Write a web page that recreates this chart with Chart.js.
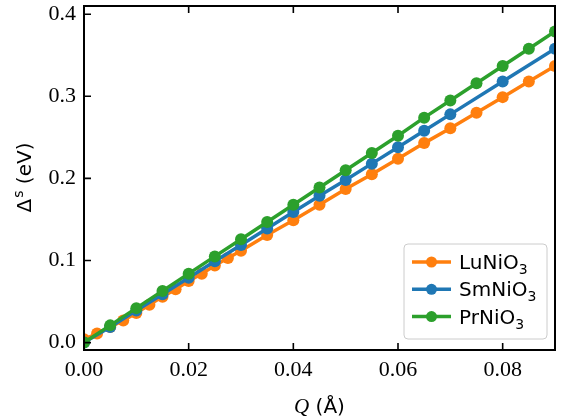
<!DOCTYPE html>
<html lang="en">
<head>
  <meta charset="UTF-8">
  <title>Spin splitting vs Q</title>
  <script src="https://cdn.jsdelivr.net/npm/chart.js"></script>
</head>
<body style="margin:0; background:#fff;">

  <canvas id="splitChart" width="561" height="420"></canvas>

  <script>
    // Q values (Å) and splitting Δs (eV) per compound
    const luQ = [0, 0.0025, 0.005, 0.0075, 0.01, 0.0125, 0.015, 0.0175, 0.02, 0.0225, 0.025, 0.0275,
                 0.03, 0.035, 0.04, 0.045, 0.05, 0.055, 0.06, 0.065, 0.07, 0.075, 0.08, 0.085, 0.09];
    const luVals = [0.004, 0.011, 0.019, 0.027, 0.036, 0.046, 0.056, 0.065, 0.075, 0.084, 0.094, 0.103,
                    0.112, 0.131, 0.149, 0.168, 0.187, 0.205, 0.224, 0.243, 0.261, 0.280, 0.299, 0.318, 0.337];

    const smQ = [0, 0.005, 0.01, 0.015, 0.02, 0.025, 0.03, 0.035, 0.04, 0.045, 0.05, 0.055, 0.06, 0.065, 0.07, 0.08, 0.09];
    const smVals = [0.0, 0.019, 0.039, 0.059, 0.079, 0.099, 0.119, 0.139, 0.159, 0.179, 0.198, 0.218, 0.238, 0.258, 0.278, 0.318, 0.358];

    const prQ = [0, 0.005, 0.01, 0.015, 0.02, 0.025, 0.03, 0.035, 0.04, 0.045, 0.05, 0.055, 0.06, 0.065, 0.07, 0.075, 0.08, 0.085, 0.09];
    const prVals = [0.0, 0.021, 0.042, 0.063, 0.084, 0.105, 0.126, 0.147, 0.168, 0.189, 0.210, 0.231, 0.252, 0.274, 0.295, 0.316, 0.337, 0.358, 0.379];

    const xTicks = [0, 0.02, 0.04, 0.06, 0.08];
    const yTicks = [0, 0.1, 0.2, 0.3, 0.4];

    const C_LU = '#ff7f0e', C_SM = '#1f77b4', C_PR = '#2ca02c';
    const SANS = '"DejaVu Sans", sans-serif';
    const SERIF = '"Liberation Serif", serif';

    function pts(qs, vs) {
      return qs.map((q, i) => ({ x: q, y: vs[i] }));
    }

    function series(label, qs, vs, color, order) {
      return {
        label: label,
        data: pts(qs, vs),
        borderColor: color,
        backgroundColor: color,
        borderWidth: 3.5,
        pointRadius: 6,
        pointBorderWidth: 0,
        pointBackgroundColor: color,
        tension: 0,
        clip: 0,
        order: order
      };
    }

    // spines, inward ticks, axis titles and legend
    const frame = {
      id: 'frame',
      afterDraw(chart) {
        const ctx = chart.ctx;
        const a = chart.chartArea;
        const xs = chart.scales.x, ys = chart.scales.y;
        ctx.save();
        ctx.strokeStyle = '#000';
        ctx.lineWidth = 1.6;
        ctx.beginPath();
        xTicks.forEach(v => {
          const px = xs.getPixelForValue(v);
          ctx.moveTo(px, a.bottom); ctx.lineTo(px, a.bottom - 7);
          ctx.moveTo(px, a.top); ctx.lineTo(px, a.top + 7);
        });
        yTicks.forEach(v => {
          const py = ys.getPixelForValue(v);
          ctx.moveTo(a.left, py); ctx.lineTo(a.left + 7, py);
        });
        ctx.stroke();
        ctx.lineWidth = 2;
        ctx.strokeRect(a.left, a.top, a.right - a.left, a.bottom - a.top);

        // x title: italic Q then (Å)
        ctx.fillStyle = '#000';
        ctx.textBaseline = 'alphabetic';
        ctx.textAlign = 'left';
        const qFont = 'italic 21px ' + SERIF, uFont = '20px ' + SANS;
        ctx.font = qFont; const wq = ctx.measureText('Q').width;
        ctx.font = uFont; const wu = ctx.measureText(' (Å)').width;
        let x0 = (a.left + a.right) / 2 - (wq + wu) / 2;
        ctx.font = qFont; ctx.fillText('Q', x0, 413);
        ctx.font = uFont; ctx.fillText(' (Å)', x0 + wq, 413);

        // y title: Δ with superscript s
        ctx.save();
        ctx.translate(31, (a.top + a.bottom) / 2);
        ctx.rotate(-Math.PI / 2);
        const big = '20px ' + SANS, small = '14px ' + SANS;
        ctx.font = big; const wd = ctx.measureText('Δ').width;
        ctx.font = small; const ws = ctx.measureText('s').width;
        ctx.font = big; const we = ctx.measureText(' (eV)').width;
        let t0 = -(wd + ws + we) / 2;
        ctx.font = big; ctx.fillText('Δ', t0, 0);
        ctx.font = small; ctx.fillText('s', t0 + wd + 1, -8);
        ctx.font = big; ctx.fillText(' (eV)', t0 + wd + ws + 1, 0);
        ctx.restore();

        // legend box
        const bx = 404, by = 244, bw = 143, bh = 95, r = 4;
        ctx.beginPath();
        ctx.roundRect(bx, by, bw, bh, r);
        ctx.fillStyle = 'rgba(255,255,255,0.8)';
        ctx.fill();
        ctx.strokeStyle = '#cccccc';
        ctx.lineWidth = 1;
        ctx.stroke();

        const entries = [['LuNiO', C_LU], ['SmNiO', C_SM], ['PrNiO', C_PR]];
        entries.forEach((e, i) => {
          const cy = 262 + i * 27.3;
          ctx.strokeStyle = e[1];
          ctx.lineWidth = 3.5;
          ctx.beginPath();
          ctx.moveTo(412, cy); ctx.lineTo(451, cy);
          ctx.stroke();
          ctx.fillStyle = e[1];
          ctx.beginPath();
          ctx.arc(431.5, cy, 5.5, 0, Math.PI * 2);
          ctx.fill();
          ctx.fillStyle = '#000';
          ctx.textBaseline = 'alphabetic';
          ctx.font = big;
          ctx.fillText(e[0], 459, cy + 7);
          const w = ctx.measureText(e[0]).width;
          ctx.font = small;
          ctx.fillText('3', 459 + w, cy + 12);
        });
        ctx.restore();
      }
    };

    const ctx = document.getElementById('splitChart').getContext('2d');
    new Chart(ctx, {
      type: 'line',
      data: {
        datasets: [
          series('LuNiO₃', luQ, luVals, C_LU, 3),
          series('SmNiO₃', smQ, smVals, C_SM, 2),
          series('PrNiO₃', prQ, prVals, C_PR, 1)
        ]
      },
      options: {
        responsive: false,
        animation: false,
        layout: { padding: { top: 5, right: 4, left: 0, bottom: 0 } },
        plugins: { legend: { display: false }, tooltip: { enabled: false } },
        scales: {
          x: {
            type: 'linear',
            min: 0,
            max: 0.09,
            grid: { display: false, drawTicks: false },
            border: { display: false },
            afterBuildTicks: s => { s.ticks = xTicks.map(v => ({ value: v })); },
            afterFit: s => { s.height = 70; s.paddingLeft = 0; s.paddingRight = 0; },
            ticks: {
              padding: 7,
              maxRotation: 0,
              color: '#000',
              font: { family: SERIF, size: 22 },
              callback: v => v.toFixed(2)
            }
          },
          y: {
            min: -0.009,
            max: 0.41,
            grid: { display: false, drawTicks: false },
            border: { display: false },
            afterBuildTicks: s => { s.ticks = yTicks.map(v => ({ value: v })); },
            afterFit: s => { s.width = 84; s.paddingTop = 0; s.paddingBottom = 0; },
            ticks: {
              padding: 8,
              color: '#000',
              font: { family: SERIF, size: 22 },
              callback: v => v.toFixed(1)
            }
          }
        }
      },
      plugins: [frame]
    });
  </script>

</body>
</html>
